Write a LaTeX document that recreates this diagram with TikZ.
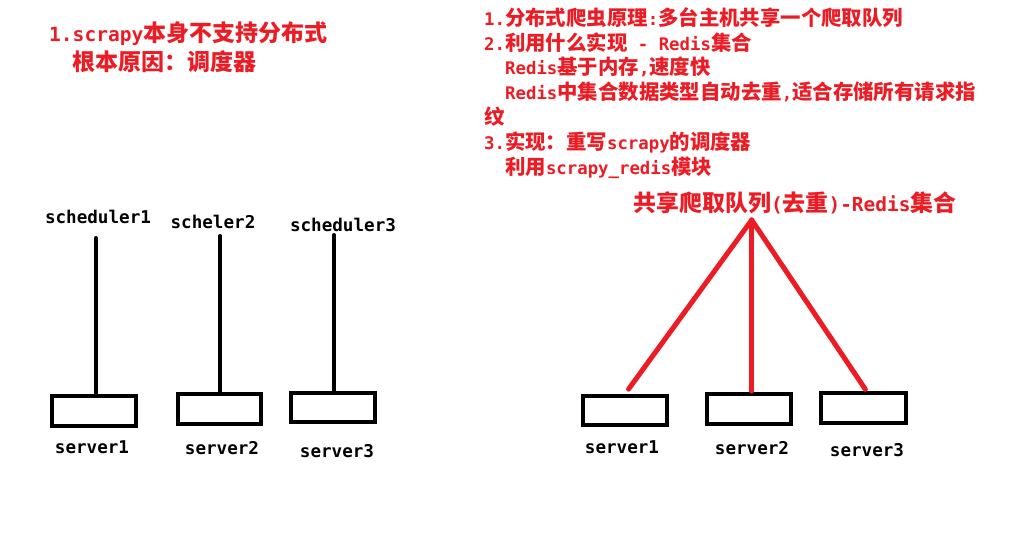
\documentclass[tikz,border=0pt]{standalone}
\usepackage{fontspec}
\newfontfamily\cjk{Noto Sans CJK SC}
\newfontfamily\lat{DejaVu Sans Mono}[Scale=0.85]
\newcommand\La[1]{{\lat\bfseries #1}}
\definecolor{pred}{RGB}{237,28,36}
\tikzset{
  rtxt/.style={text=pred, font=\fontsize{20.4}{24}\cjk\bfseries, inner sep=0pt, anchor=base west},
  ltxt/.style={text=pred, font=\fontsize{23}{26}\cjk\bfseries, inner sep=0pt, anchor=base west},
  qtxt/.style={text=pred, font=\fontsize{22.9}{26}\cjk\bfseries, inner sep=0pt, anchor=base},
  lbl/.style={text=black, font=\fontsize{20.7}{24}\lat\bfseries, inner sep=0pt, anchor=base},
  srv/.style={draw=black, line width=4pt, minimum width=84pt, minimum height=30pt, inner sep=0pt},
  bline/.style={draw=black, line width=4pt, line cap=round},
  rline/.style={draw=pred, line width=5pt, line cap=round}
}
\begin{document}
\begin{tikzpicture}[x=1pt,y=-1pt]
\useasboundingbox[fill=white] (0,0) rectangle (1018,549);
% left notes
\node[ltxt] (n1) at (49,41.5) {\La{1.scrapy}本身不支持分布式};
\node[ltxt] (n2) at (72.5,70) {根本原因：调度器};
% right notes
\node[rtxt] (m1) at (484,25) {\La{1.}分布式爬虫原理\La{:}多台主机共享一个爬取队列};
\node[rtxt] (m2) at (484,50) {\La{2.}利用什么实现\La{ - Redis}集合};
\node[rtxt] (m3) at (505,74.5) {\La{Redis}基于内存\La{,}速度快};
\node[rtxt] (m4) at (505,99.5) {\La{Redis}中集合数据类型自动去重\La{,}适合存储所有请求指};
\node[rtxt] (m5) at (484,124) {纹};
\node[rtxt] (m6) at (484,149) {\La{3.}实现：重写\La{scrapy}的调度器};
\node[rtxt] (m7) at (505,174) {利用\La{scrapy\_redis}模块};
% left diagram
\node[lbl] (s1) at (98,223) {scheduler1};
\node[lbl] (s2) at (213,228.3) {scheler2};
\node[lbl] (s3) at (343,231.7) {scheduler3};
\node[srv] (b1) at (94,411) {};
\node[srv, minimum width=83pt] (b2) at (219.5,409) {};
\node[srv, minimum height=29pt] (b3) at (333,407.5) {};
\node[lbl] (v1) at (92,453.3) {server1};
\node[lbl] (v2) at (222,454) {server2};
\node[lbl] (v3) at (337,457.3) {server3};
\coordinate (t1) at (95.7,238);
\coordinate (t2) at (220.3,236);
\coordinate (t3) at (334,235);
\draw[bline] (t1) -- (t1 |- b1.north);
\draw[bline] (t2) -- (t2 |- b2.north);
\draw[bline] (t3) -- (t3 |- b3.north);
% right diagram
\node[qtxt] (q) at (795,211) {共享爬取队列\La{(}去重\La{)-Redis}集合};
\coordinate (apex) at (751.7,220);
\node[srv, minimum height=29pt] (r1) at (625,410.5) {};
\node[srv] (r2) at (749,409) {};
\node[srv, minimum width=85pt] (r3) at (863.5,408) {};
\node[lbl] (w1) at (622,453.3) {server1};
\node[lbl] (w2) at (752,454.3) {server2};
\node[lbl] (w3) at (867,456.7) {server3};
\draw[rline, shorten >=6pt] (apex) -- (r1.north);
\draw[rline] (apex) -- ([yshift=1pt]apex |- r2.north);
\draw[rline, shorten >=2pt] (apex) -- ([xshift=3pt]r3.north);
\end{tikzpicture}
\end{document}
